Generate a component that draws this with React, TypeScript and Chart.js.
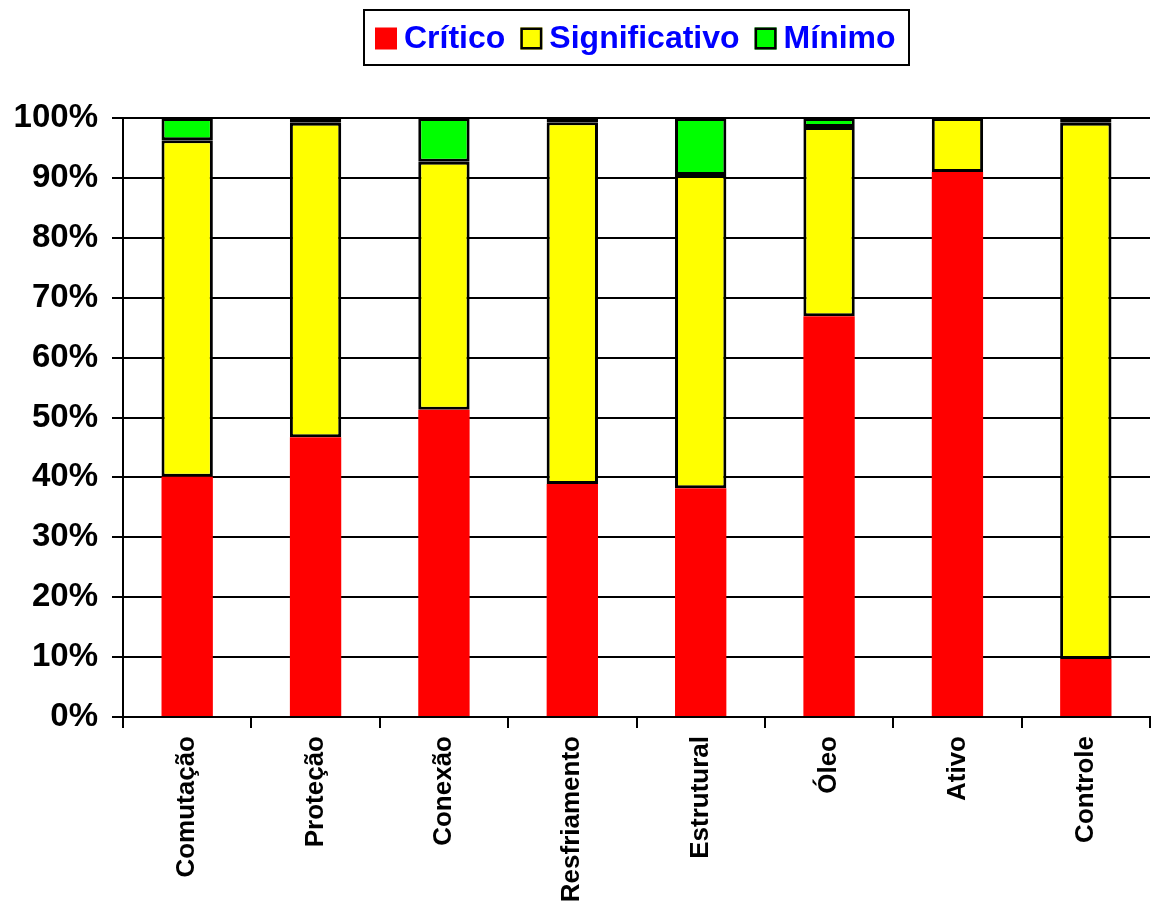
import React, { useEffect, useRef } from "react";
import { Chart, registerables } from "chart.js";

Chart.register(...registerables);

const categories = ["Comutação", "Proteção", "Conexão", "Resfriamento", "Estrutural", "Óleo", "Ativo", "Controle"];
const critico = [40.1, 46.7, 51.3, 38.9, 38.2, 66.9, 91.0, 9.7];
const significativo = [56.2, 52.5, 41.4, 60.4, 52.3, 31.6, 9.0, 89.5];
const minimo = [3.7, 0.8, 7.3, 0.7, 9.5, 1.5, 0.0, 0.8];
const yTicks = [0, 10, 20, 30, 40, 50, 60, 70, 80, 90, 100];

const FONT = '"Liberation Sans", Arial, Helvetica, sans-serif';

const legendBoxPlugin = {
  id: "legendBox",
  afterDraw(chart: any) {
    const ctx = chart.ctx;
    ctx.save();
    ctx.strokeStyle = "#000";
    ctx.lineWidth = 2;
    ctx.fillStyle = "#fff";
    ctx.fillRect(364, 10, 545, 55);
    ctx.strokeRect(364, 10, 545, 55);
    ctx.font = "bold 32px " + FONT;
    ctx.textBaseline = "middle";
    let x = 375;
    const cy = 38.5;
    chart.data.datasets.forEach((ds: any) => {
      const s = 22;
      ctx.fillStyle = ds.backgroundColor;
      ctx.fillRect(x, cy - s / 2, s, s);
      if (ds.borderWidth > 0) {
        ctx.strokeStyle = "#000";
        ctx.lineWidth = 2.5;
        ctx.strokeRect(x + 1.25, cy - s / 2 + 1.25, s - 2.5, s - 2.5);
      }
      x += s + 7;
      ctx.fillStyle = "#0000FF";
      ctx.fillText(ds.label, x, cy + 1);
      x += ctx.measureText(ds.label).width + 15;
    });
    ctx.restore();
  },
};

export default function App() {
  const ref = useRef<HTMLCanvasElement>(null);
  useEffect(() => {
    document.body.style.margin = "0";
    const chart = new Chart(ref.current!, {
      type: "bar",
      data: {
        labels: categories,
        datasets: [
          { label: "Crítico", data: critico, backgroundColor: "#FF0000", borderColor: "#000", borderWidth: 0, borderSkipped: false },
          { label: "Significativo", data: significativo, backgroundColor: "#FFFF00", borderColor: "#000", borderWidth: 3, borderSkipped: false },
          { label: "Mínimo", data: minimo, backgroundColor: "#00FF00", borderColor: "#000", borderWidth: 3, borderSkipped: false },
        ],
      },
      options: {
        responsive: false,
        animation: false,
        layout: { padding: { top: 118, left: 0, right: 1, bottom: 0 } },
        datasets: { bar: { categoryPercentage: 1, barPercentage: 0.4 } },
        plugins: { legend: { display: false }, tooltip: { enabled: false } },
        scales: {
          x: {
            stacked: true,
            afterFit(scale: any) { scale.height = 190; },
            grid: { display: true, drawOnChartArea: false, drawTicks: true, tickLength: 11, color: "#000", lineWidth: 2, offset: true },
            border: { display: true, color: "#000", width: 2 },
            ticks: {
              minRotation: 90, maxRotation: 90, autoSkip: false, padding: 8,
              color: "#000", font: { family: FONT, size: 26, weight: "bold" },
            },
          },
          y: {
            stacked: true,
            min: 0, max: 100,
            afterFit(scale: any) { scale.width = 123; },
            afterBuildTicks(scale: any) { scale.ticks = yTicks.map((v) => ({ value: v })); },
            grid: { color: "#000", lineWidth: 2, tickLength: 11, drawTicks: true },
            border: { display: true, color: "#000", width: 2 },
            ticks: {
              padding: 14, color: "#000",
              font: { family: FONT, size: 33, weight: "bold" },
              callback: (v: any) => v + "%",
            },
          },
        },
      } as any,
      plugins: [legendBoxPlugin],
    });
    return () => chart.destroy();
  }, []);
  return <canvas ref={ref} width={1151} height={907} style={{ display: "block" }} />;
}
